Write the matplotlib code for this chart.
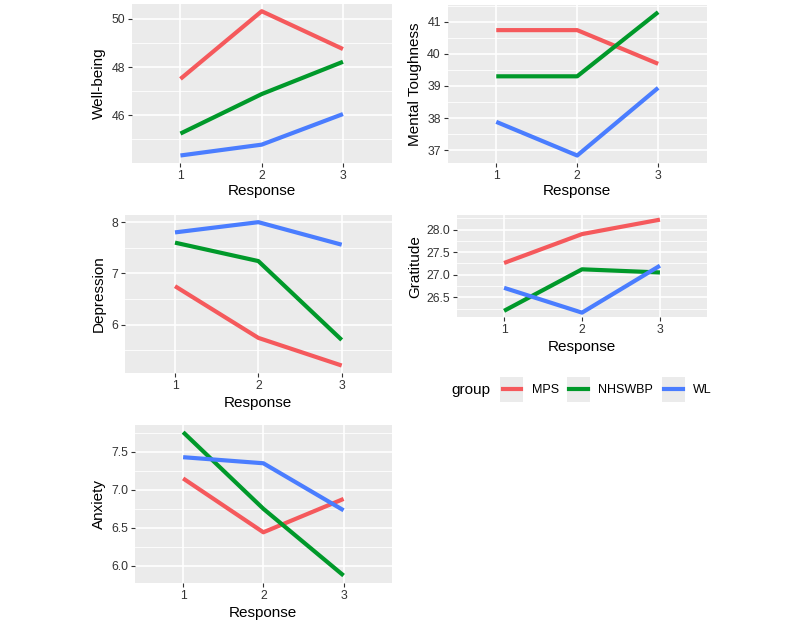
import matplotlib
matplotlib.use("Agg")
import matplotlib.pyplot as plt
from matplotlib.patches import Rectangle
from matplotlib.lines import Line2D
from matplotlib.ticker import MultipleLocator, FormatStrFormatter

plt.rcParams["font.family"] = ["Liberation Sans", "DejaVu Sans"]

W, H = 800, 623

# data
responses = [1, 2, 3]
groups = ["MPS", "NHSWBP", "WL"]
colors = {"MPS": "#F5595C", "NHSWBP": "#00992A", "WL": "#4A7DFF"}

wellbeing = {"MPS": [47.51, 50.32, 48.75], "NHSWBP": [45.24, 46.88, 48.22], "WL": [44.33, 44.78, 46.05]}
toughness = {"MPS": [40.74, 40.74, 39.69], "NHSWBP": [39.30, 39.30, 41.30], "WL": [37.88, 36.83, 38.94]}
depression = {"MPS": [6.75, 5.74, 5.20], "NHSWBP": [7.60, 7.24, 5.70], "WL": [7.80, 8.00, 7.56]}
gratitude = {"MPS": [27.26, 27.90, 28.22], "NHSWBP": [26.20, 27.12, 27.05], "WL": [26.71, 26.16, 27.20]}
anxiety = {"MPS": [7.15, 6.44, 6.88], "NHSWBP": [7.76, 6.75, 5.87], "WL": [7.43, 7.35, 6.73]}

# (data, ylabel, major step, pixel box left/right/top/bottom, ylabel x, xlabel y)
PANELS = [
    (wellbeing, "Well-being", 2.0, (131.7, 391.7, 4, 162.7), -0.126, -0.178),
    (toughness, "Mental Toughness", 1.0, (447.7, 706.7, 5, 162.7), -0.126, -0.178),
    (depression, "Depression", 1.0, (125, 391.7, 215, 372.7), -0.098, -0.189),
    (gratitude, "Gratitude", 0.5, (457.3, 706.7, 215, 317.3), -0.17, -0.295),
    (anxiety, "Anxiety", 0.5, (135, 391.7, 425, 582.7), -0.14, -0.189),
]


def px_rect(l, r, t, b):
    return [l / W, 1 - b / H, (r - l) / W, (b - t) / H]


fig = plt.figure(figsize=(W / 100, H / 100), dpi=100)

for data, ylab, step, box, ylx, xly in PANELS:
    ax = fig.add_axes(px_rect(*box))
    ax.set_facecolor("#EBEBEB")
    for g in groups:
        ax.plot(responses, data[g], color=colors[g], lw=3.0, solid_capstyle="butt", zorder=3)
    vals = [v for g in groups for v in data[g]]
    lo, hi = min(vals), max(vals)
    pad = (hi - lo) * 0.05
    ax.set_ylim(lo - pad, hi + pad)
    ax.set_xlim(0.4, 3.6)
    ax.set_xticks(responses)
    ax.yaxis.set_major_locator(MultipleLocator(step))
    ax.yaxis.set_minor_locator(MultipleLocator(step / 2))
    if step == 0.5:
        ax.yaxis.set_major_formatter(FormatStrFormatter("%.1f"))
    ax.grid(which="major", color="white", lw=1.2, zorder=1)
    ax.grid(which="minor", axis="y", color="white", lw=0.6, zorder=1)
    ax.tick_params(which="major", length=3, width=0.8, color="#333333",
                   labelcolor="#333333", labelsize=8.8, pad=2)
    ax.tick_params(which="minor", length=0)
    for s in ax.spines.values():
        s.set_visible(False)
    ax.set_axisbelow(True)
    ax.set_ylabel(ylab, fontsize=11, va="center")
    ax.yaxis.set_label_coords(ylx, 0.5)
    ax.set_xlabel("Response", fontsize=11, va="center")
    ax.xaxis.set_label_coords(0.5, xly)

# legend, drawn by hand in pixel space
lax = fig.add_axes([0, 0, 1, 1])
lax.set_xlim(0, W)
lax.set_ylim(H, 0)
lax.axis("off")
lax.text(451.7, 390, "group", fontsize=11, va="center", ha="left")
keys = [(500, 531.7), (566.7, 598.3), (661.7, 693.3)]
for g, (kx, tx) in zip(groups, keys):
    lax.add_patch(Rectangle((kx, 377), 23.3, 24.7, facecolor="#EBEBEB", edgecolor="none"))
    lax.add_line(Line2D([kx + 2.5, kx + 20.8], [389.3, 389.3], color=colors[g], lw=3.0))
    lax.text(tx, 390, g, fontsize=9, va="center", ha="left")

fig.savefig("out.png", dpi=100)
